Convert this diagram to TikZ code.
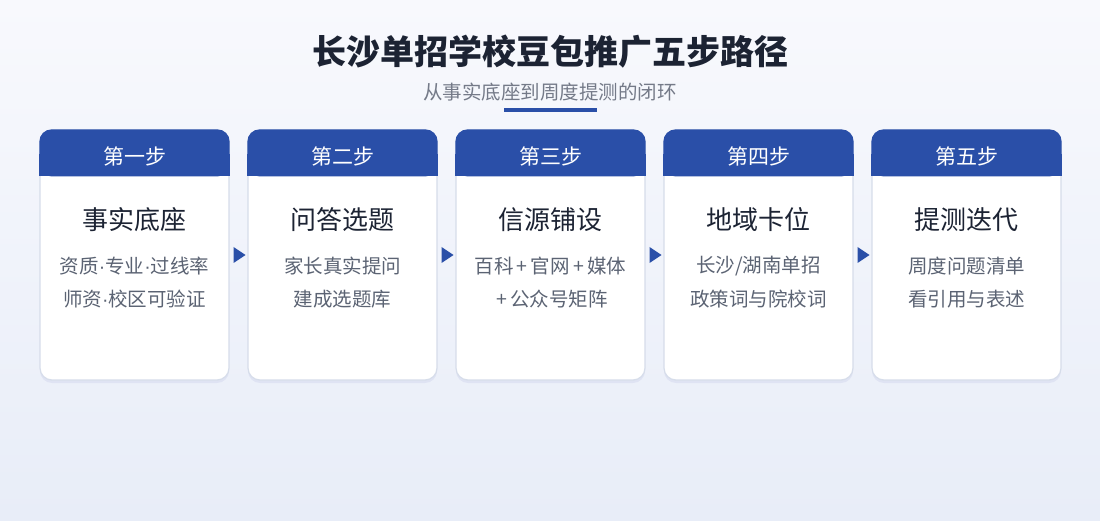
\documentclass[tikz,border=0pt]{standalone}
\usepackage{fontspec}
\setmainfont{Noto Sans CJK SC}
\newfontfamily\dotfont{Liberation Sans}
\usetikzlibrary{calc}
\definecolor{stepblue}{HTML}{2A4FA8}
\definecolor{titleink}{HTML}{1C2333}
\definecolor{bodyink}{HTML}{5B6373}
\definecolor{cardline}{HTML}{D6DDEA}
\definecolor{bgtop}{HTML}{F8F9FD}
\definecolor{bgbottom}{HTML}{E8EDF8}
\newcommand{\mdot}{{\dotfont ·}}
\newcommand{\plus}{\,+\,}
\tikzset{
  card/.style={draw=cardline,line width=1.2pt,fill=white,rounded corners=12pt,minimum width=189pt,minimum height=250pt,inner sep=0pt,
    preaction={draw=none,fill=blue!40!gray,fill opacity=0.08,transform canvas={yshift=-3pt}}},
  headtext/.style={text=white,font=\fontsize{21}{24}\selectfont},
  steptitle/.style={text=titleink,font=\fontsize{26}{30}\selectfont},
  stepline/.style={text=bodyink,font=\fontsize{19.5}{23}\selectfont}
}
\begin{document}
\begin{tikzpicture}[x=1pt,y=1pt]
  \shade[top color=bgtop,bottom color=bgbottom] (0,0) rectangle (1100,520);
  \useasboundingbox (0,0) rectangle (1100,520);
  \node[text=titleink,font=\fontsize{34}{40}\selectfont\bfseries] (title) at (550,468) {长沙单招学校豆包推广五步路径};
  \node[text=bodyink!85,font=\fontsize{19.5}{23}\selectfont] (subtitle) at (550,428) {从事实底座到周度提测的闭环};
  \fill[stepblue] (504,408) rectangle (597,412);
  \foreach \step/\head/\la/\lb [count=\k] in {
      第一步/事实底座/{资质\mdot 专业\mdot 过线率}/{师资\mdot 校区可验证},
      第二步/问答选题/{家长真实提问}/{建成选题库},
      第三步/信源铺设/{百科\plus 官网\plus 媒体}/{\plus 公众号矩阵},
      第四步/地域卡位/{长沙/湖南单招}/{政策词与院校词},
      第五步/提测迭代/{周度问题清单}/{看引用与表述}} {
    \node[card] (card\k) at ({134.5+208*(\k-1)},265) {};
    \fill[stepblue,rounded corners=12pt] (card\k.north west) rectangle ($(card\k.north east)+(0,-47)$);
    \fill[stepblue] ($(card\k.north west)+(0,-25)$) rectangle ($(card\k.north east)+(0,-47)$);
    \node[headtext] (head\k) at ($(card\k.north)+(0,-27)$) {\step};
    \node[steptitle] (name\k) at ($(card\k.north)+(0,-90)$) {\head};
    \node[stepline] (linea\k) at ($(card\k.north)+(0,-137)$) {\la};
    \node[stepline] (lineb\k) at ($(card\k.north)+(0,-170)$) {\lb};
  }
  \foreach \k in {1,...,4}
    \fill[stepblue] ($(card\k.east)+(4,8)$) -- ($(card\k.east)+(16,0)$) -- ($(card\k.east)+(4,-8)$) -- cycle;
\end{tikzpicture}
\end{document}
